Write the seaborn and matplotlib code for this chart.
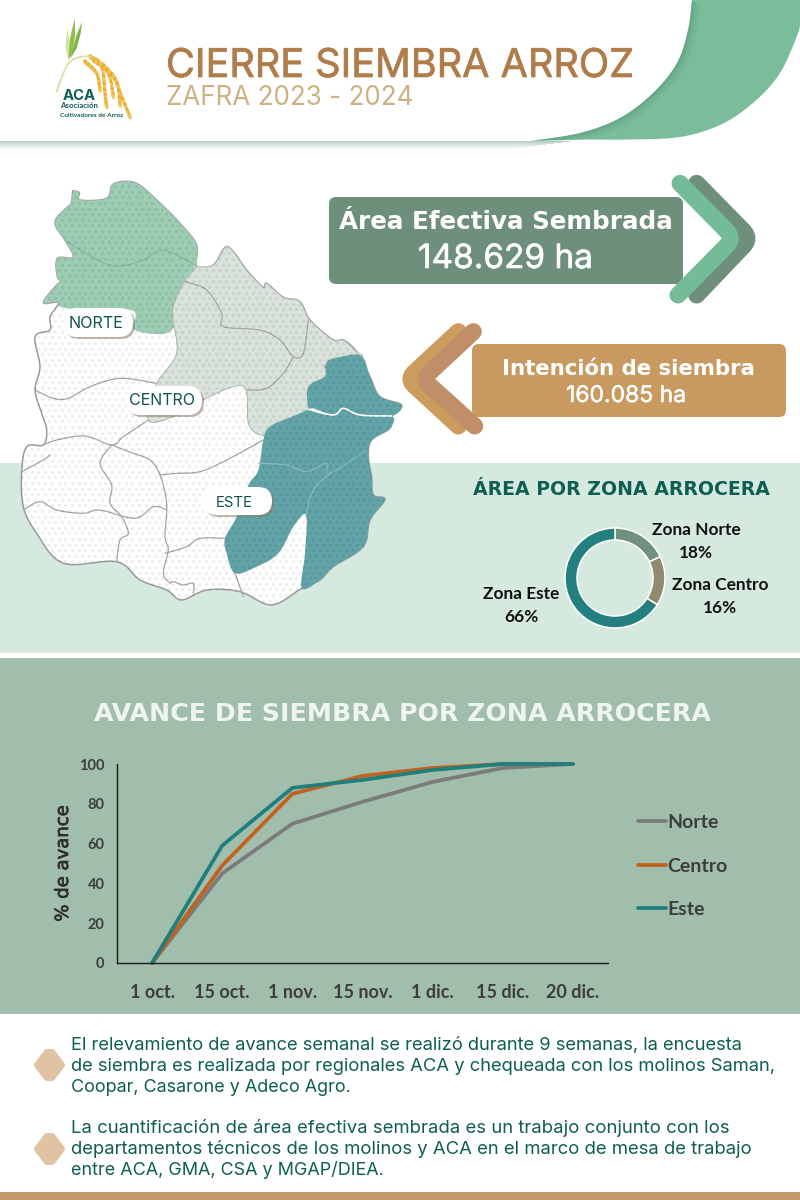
import numpy as np
import pandas as pd
import matplotlib
matplotlib.use("Agg")
import matplotlib.pyplot as plt
import seaborn as sns
from matplotlib.patches import FancyBboxPatch, Polygon, Rectangle, Ellipse
import matplotlib.patheffects as pe

# ---------- chart data ----------
fechas = ["1 oct.", "15 oct.", "1 nov.", "15 nov.", "1 dic.", "15 dic.", "20 dic."]
norte = [0, 45, 70, 81, 91, 98, 100]
centro = [0, 49, 85, 94, 98, 100, 100]
este = [0, 59, 88, 92, 97, 100, 100]
yticks = [0, 20, 40, 60, 80, 100]
zonas = ["Zona Norte", "Zona Centro", "Zona Este"]
zona_pct = [18, 16, 66]

# ---------- decorative map outlines (zoom-pixel tracing) ----------
COUNTRY = [(218,62),(238,68),(240,90),(320,85),(340,42),(405,38),(470,90),(540,160),(590,225),(590,290),(640,285),(675,232),(700,245),(740,300),(790,352),(800,340),(850,382),(900,395),(930,450),(1000,510),(1030,510),(1070,545),(1110,620),(1140,680),(1205,705),(1175,740),(1170,775),(1115,810),(1105,860),(1115,920),(1120,975),(1155,988),(1110,1050),(1090,1130),(1000,1190),(960,1230),(905,1255),(815,1305),(720,1265),(620,1260),(545,1290),(500,1260),(420,1230),(350,1175),(190,1180),(110,1090),(70,1010),(65,905),(80,830),(130,825),(140,780),(125,730),(105,660),(120,590),(105,500),(150,480),(150,440),(175,398),(130,398),(170,345),(185,335),(172,320),(172,265),(220,262),(195,210),(165,155),(215,100)]
NORTE_P = [(218,62),(238,68),(240,90),(320,85),(340,42),(405,38),(470,90),(540,160),(590,225),(585,290),(555,330),(518,420),(525,465),(490,492),(400,478),(395,420),(200,415),(170,395),(130,398),(170,345),(185,335),(172,320),(172,265),(220,262),(195,210),(165,155),(215,100)]
CENTRO_P = [(590,290),(640,285),(675,232),(700,245),(740,300),(790,352),(800,340),(850,382),(900,395),(930,450),(1000,510),(1030,510),(1070,545),(1085,560),(1000,565),(975,590),(975,620),(930,650),(925,720),(890,735),(810,770),(800,795),(770,790),(745,760),(738,660),(700,650),(610,690),(520,740),(445,750),(470,640),(530,550),(518,420),(555,330)]
ESTE_A = [(985,570),(1080,555),(1110,620),(1140,680),(1205,705),(1175,738),(1080,735),(1030,715),(1000,735),(940,715),(925,715),(925,650),(975,620),(975,590)]
ESTE_B = [(925,718),(1000,735),(1030,715),(1080,735),(1175,738),(1170,775),(1115,810),(1105,860),(1115,920),(1120,975),(1155,988),(1110,1050),(1090,1130),(1000,1190),(960,1230),(905,1255),(915,1150),(918,1035),(880,1070),(835,1150),(770,1190),(705,1210),(680,1150),(675,1105),(710,1040),(745,945),(775,900),(790,810),(810,770),(890,735)]
LINES_GRAY = [
    [(555,335),(620,360),(665,430),(670,470),(780,480),(840,510),(880,560),(910,550),(925,450)],
    [(880,560),(850,610),(800,655),(740,660)],
    [(105,660),(160,685),(205,685),(270,650),(360,625),(470,640)],
    [(130,825),(170,810),(255,798),(335,825),(370,800),(445,750)],
    [(150,855),(130,870),(65,905)],
    [(335,825),(300,880),(335,945),(330,1000),(365,1040),(385,1090),(360,1110),(350,1175)],
    [(335,825),(400,850),(450,870),(480,915),(500,1000),(495,1100),(505,1140),(490,1210),(510,1240)],
    [(70,1020),(120,995),(170,1020),(250,1030),(300,1020),(405,1045),(460,1010),(500,1020)],
    [(480,915),(530,910),(600,905),(680,870),(790,810)],
    [(495,1150),(560,1130),(600,1105),(675,1105)],
    [(510,1240),(520,1235),(550,1245),(580,1240),(580,1270)],
    [(705,1210),(730,1280)],
]
LINE_N = [(195,210),(250,245),(340,288),(430,270),(490,240),(585,285)]
LINES_E = [[(775,880),(860,885),(920,905),(980,880),(990,910),(1100,840)], [(990,910),(940,960),(918,1035)]]
LINE_W = [(925,718),(1000,735),(1030,715),(1080,735),(1175,738)]

sns.set_theme(style="white")
plt.rcParams["font.family"] = ["Inter", "DejaVu Sans"]
BODY = ["Inter", "DejaVu Sans"]
CAL = ["Lato", "DejaVu Sans"]
HEAVY = ["DejaVu Sans"]

fig = plt.figure(figsize=(8, 12), dpi=100, facecolor="white")
bg = fig.add_axes([0, 0, 1, 1])
bg.set_xlim(0, 800); bg.set_ylim(1200, 0); bg.axis("off")
rend = fig.canvas.get_renderer()
PT = 0.72


def fit(x0, x1, y, s, thick=0, **kw):
    """Left-aligned text whose width spans x0..x1, with y as its baseline."""
    t = bg.text(x0, y, s, ha="left", va="baseline", fontsize=12, **kw)
    for _ in range(3):
        w = t.get_window_extent(rend).width
        t.set_fontsize(t.get_fontsize() * (x1 - x0) / w)
    if thick:
        t.set_path_effects([pe.withStroke(linewidth=thick, foreground=kw.get("color", "k"))])
    return t


def smooth(pts, n=14):
    p = np.array([pts[0]] + list(pts) + [pts[-1]], float)
    out = []
    for i in range(1, len(p) - 2):
        for t in np.linspace(0, 1, n, endpoint=False):
            a, b, c, d = p[i - 1], p[i], p[i + 1], p[i + 2]
            out.append(0.5 * (2 * b + (c - a) * t + (2 * a - 5 * b + 4 * c - d) * t ** 2 + (3 * b - a - 3 * c + d) * t ** 3))
    out.append(p[-1])
    return np.array(out)


def z2(pts):
    return np.array([(x / 3, 170 + y / 3) for x, y in pts])


def z2s(pts, n=6):
    return z2(smooth(list(pts), n))


def z5(pts):
    return np.array([(320 + x / 3, 170 + y / 3) for x, y in pts])


def z7(pts):
    return np.array([(40 + x / 3, 10 + y / 3) for x, y in pts])


# ---------- bands ----------
bg.add_patch(Rectangle((0, 463), 800, 190, color="#d6e9df", lw=0))
bg.add_patch(Rectangle((0, 658), 800, 356, color="#a1bdab", lw=0))
bg.add_patch(Rectangle((0, 1192), 800, 8, color="#c29a6e", lw=0))

# ---------- header swoosh ----------
inner = smooth([(692, 0), (688, 30), (677, 63), (653, 93), (620, 118), (580, 133), (530, 141)])
outer = smooth([(587, 139.5), (630, 139.5), (680, 137), (720, 125), (753, 103), (780, 73), (798, 33), (800, 20)])
poly = np.vstack([inner, outer, [(800, 0)]])
for k in range(10):
    bg.add_patch(Rectangle((0, 141 + k), 570 - 8 * k, 1.2, color="#6f9d8a", alpha=0.5 * (1 - k / 10) ** 1.6, lw=0))
bg.add_patch(Polygon(poly, closed=True, color="#7abd9a", lw=0))
for w, a in [(10, .05), (7, .06), (4, .08), (2, .1)]:
    l = bg.plot(inner[:-3, 0] + w * .35, inner[:-3, 1] + w * .25, color="#2f6a52", alpha=a, lw=w * PT, solid_capstyle="butt")[0]
    l.set_clip_path(Polygon(poly, closed=True, transform=bg.transData))

# ---------- logo ----------
for pts, c in [([(82,55),(76,110),(85,150),(92,110)], "#d3e3a8"),
               ([(104,25),(90,85),(85,150),(98,130),(106,70)], "#8fc04e"),
               ([(126,35),(108,80),(92,145),(110,115),(122,70)], "#7fb548")]:
    bg.add_patch(Polygon(z7(pts), closed=True, color=c, lw=0))
st = z7(smooth([(50,245),(70,190),(90,155),(125,140),(150,140)]))
bg.plot(st[:, 0], st[:, 1], color="#d9dfa8", lw=1.3)
for pts in [[(150,140),(185,170),(195,250),(200,290)],
            [(170,150),(220,200),(245,260),(270,320)],
            [(135,155),(170,190),(180,240)],
            [(190,165),(230,215),(240,285)],
            [(160,150),(205,190),(220,260)]]:
    cur = z7(smooth(pts, 8))
    for i, (x, y) in enumerate(cur):
        bg.add_patch(Ellipse((x, y), 3.4, 5.6, angle=-15, color="#e9ab33" if i % 2 else "#f3c65b", lw=0))
fit(63, 96, 100, "ACA", color="#0f5e52", fontweight="bold", family=BODY)
fit(60, 98, 108.5, "Asociación", color="#0f5e52", family=CAL, fontweight="bold")
fit(60, 122, 117, "Cultivadores de Arroz", color="#0f5e52", family=CAL, fontweight="bold")

# ---------- header text ----------
fit(166, 634, 77, "CIERRE SIEMBRA ARROZ", thick=0.5, color="#b07d4a", family=BODY)
fit(166, 413, 105, "ZAFRA 2023 - 2024", color="#cdb083", family=BODY)

# ---------- map ----------
bg.add_patch(Polygon(z2s(COUNTRY), closed=True, facecolor="white", edgecolor="#9b9b9b", lw=1.1, joinstyle="round"))
bg.add_patch(Polygon(z2s(NORTE_P), closed=True, facecolor="#9dcdb4", edgecolor="none"))
bg.add_patch(Polygon(z2s(CENTRO_P), closed=True, facecolor="#d9e3da", edgecolor="#a8aea8", lw=0.6))
bg.add_patch(Polygon(z2s(ESTE_A), closed=True, facecolor="#62a3a8", edgecolor="none"))
bg.add_patch(Polygon(z2s(ESTE_B), closed=True, facecolor="#62a3a8", edgecolor="none"))
for ln in LINES_GRAY:
    p = z2s(ln)
    bg.plot(p[:, 0], p[:, 1], color="#a3a8a4", lw=0.9, solid_joinstyle="round")
p = z2s(LINE_N); bg.plot(p[:, 0], p[:, 1], color="#86b69e", lw=0.8)
for ln in LINES_E:
    p = z2s(ln); bg.plot(p[:, 0], p[:, 1], color="#8dbcbf", lw=0.8)
p = z2s(LINE_W); bg.plot(p[:, 0], p[:, 1], color="white", lw=1.2)
gx, gy = np.meshgrid(np.arange(15, 410, 6.7), np.arange(175, 610, 5.6))
gx = gx + (np.arange(gx.shape[0]) % 2)[:, None] * 3.35
dots = bg.scatter(gx.ravel(), gy.ravel(), s=6, color="black", alpha=0.065, lw=0, zorder=3)
dots.set_clip_path(Polygon(z2s(COUNTRY), closed=True, transform=bg.transData))

for (x0, x1, y0, y1, tx0, tx1, by, s) in [(63, 133, 308, 337, 69, 124, 328, "NORTE"),
                                           (126, 202, 386, 415, 129, 195, 405, "CENTRO"),
                                           (203, 272, 487, 515, 216, 253, 507, "ESTE")]:
    h = y1 - y0
    for dx, c, al, zo in [(2, "#8d7a66", .55, 4), (0, "white", 1, 5)]:
        bg.add_patch(FancyBboxPatch((x0 + h / 2 + dx, y0 + h / 2 + dx), x1 - x0 - h, 0,
                                    boxstyle=f"round,pad={h/2},rounding_size={h/2}",
                                    facecolor=c, edgecolor="none", alpha=al, zorder=zo))
    fit(tx0, tx1, by, s, color="#10524c", zorder=6, family=BODY)

# ---------- KPI boxes ----------
def rbox(x0, x1, y0, y1, c, r=7):
    bg.add_patch(FancyBboxPatch((x0 + r, y0 + r), x1 - x0 - 2 * r, y1 - y0 - 2 * r,
                                boxstyle=f"round,pad={r},rounding_size={r}", facecolor=c, edgecolor="none"))


def chev(a, tip, b, c, width=17):
    a, tip, b = np.array(a, float), np.array(tip, float), np.array(b, float)
    # short rounded bend around the apex
    p1 = tip + (a - tip) * 0.14
    p2 = tip + (b - tip) * 0.14
    ts = np.linspace(0, 1, 16)[:, None]
    bend = (1 - ts) ** 2 * p1 + 2 * ts * (1 - ts) * tip + ts ** 2 * p2
    p = z5(np.vstack([a, bend, b]))
    bg.plot(p[:, 0], p[:, 1], color=c, lw=width * PT, solid_joinstyle="round", solid_capstyle="round")


chev((1130, 40), (1292, 205), (1130, 375), "#6d8f7b")
chev((1080, 40), (1242, 205), (1074, 375), "#74bb98")
chev((415, 485), (262, 627), (415, 768), "#cc9c5e")
chev((460, 485), (308, 627), (464, 768), "#c08e68")
rbox(329, 683, 197, 284, "#6d8f7b")
rbox(472, 786, 344, 417, "#c99a60")
fit(339, 671, 229, "Área Efectiva Sembrada", color="white", fontweight="bold", family=HEAVY)
fit(418, 593, 268, "148.629 ha", color="white", family=BODY, thick=0.4)
fit(502, 755, 375, "Intención de siembra", color="white", fontweight="bold", family=HEAVY)
fit(566, 686, 402, "160.085 ha", color="white", family=BODY, thick=0.3)

# ---------- donut ----------
fit(473, 768, 495, "ÁREA POR ZONA ARROCERA", color="#0f5e52", fontweight="bold", family=HEAVY)
R = 50
dax = fig.add_axes([(615 - R) / 800, 1 - (578 + R) / 1200, 2 * R / 800, 2 * R / 1200])
dax.pie(zona_pct, startangle=90, counterclock=False, radius=1, colors=["#6f917d", "#918a70", "#23807f"],
        wedgeprops=dict(width=0.24, edgecolor="white", linewidth=1.1))
dax.set_xlim(-1, 1); dax.set_ylim(-1, 1)
for name, pct, cx, cy in zip(zonas, zona_pct, [696, 720, 521], [530, 585, 594]):
    bg.text(cx, cy, name, ha="center", va="center", fontsize=12.4, fontweight="bold", color="#111", family=CAL)
    bg.text(cx, cy + 23, f"{pct}%", ha="center", va="center", fontsize=12.4, fontweight="bold", color="#111", family=CAL)

# ---------- line chart ----------
fit(94, 712, 721, "AVANCE DE SIEMBRA POR ZONA ARROCERA", color="#eef5f0", fontweight="bold", family=HEAVY)
df = pd.DataFrame({
    "fecha": fechas * 3,
    "avance": norte + centro + este,
    "zona": ["Norte"] * 7 + ["Centro"] * 7 + ["Este"] * 7,
})
ax = fig.add_axes([117 / 800, 1 - 963 / 1200, (608 - 117) / 800, (963 - 764) / 1200])
ax.patch.set_alpha(0)
sns.lineplot(data=df, x="fecha", y="avance", hue="zona", sort=False, ax=ax, lw=2.7,
             palette={"Norte": "#7b7b7b", "Centro": "#c3611f", "Este": "#1f7f7c"}, clip_on=False)
ax.set_xlim(-0.5, 6.5); ax.set_ylim(0, 100)
ax.set_yticks(yticks)
sns.despine(ax=ax)
for sp in ["left", "bottom"]:
    ax.spines[sp].set_color("#1c1c1c"); ax.spines[sp].set_linewidth(1.0)
ax.tick_params(axis="both", length=0, labelcolor="#3d3d3d")
ax.tick_params(axis="y", pad=9, labelsize=10.5)
ax.tick_params(axis="x", pad=15, labelsize=13)
for t in ax.get_xticklabels() + ax.get_yticklabels():
    t.set_family(CAL); t.set_fontweight("bold")
ax.set_xlabel("")
ylab = ax.set_ylabel("% de avance", fontsize=13, color="#2e2e2e", family=HEAVY)
ylab.set_path_effects([pe.withStroke(linewidth=0.5, foreground="#2e2e2e")])
ax.yaxis.set_label_coords((72 - 117) / (608 - 117), 0.5)
handles, labels = ax.get_legend_handles_labels()
ax.legend(handles, labels, frameon=False, loc="center left", bbox_to_anchor=((620 - 117) / 491, (963 - 866) / 199),
          labelspacing=1.35, handlelength=1.45, handletextpad=0.1, prop=dict(family=CAL, size=14, weight="bold"),
          labelcolor="#3d3d3d")

# ---------- footer ----------
lines = [(71, 747, 1050, "El relevamiento de avance semanal se realizó durante 9 semanas, la encuesta"),
         (71, 778, 1071, "de siembra es realizada por regionales ACA y chequeada con los molinos Saman,"),
         (71, 351, 1092, "Coopar, Casarone y Adeco Agro."),
         (71, 727, 1133, "La cuantificación de área efectiva sembrada es un trabajo conjunto con los"),
         (71, 754, 1154, "departamentos técnicos de los molinos y ACA en el marco de mesa de trabajo"),
         (71, 384, 1175, "entre ACA, GMA, CSA y MGAP/DIEA.")]
for x0, x1, y, s in lines:
    fit(x0, x1, y, s, color="#0f5e52", family=BODY)
for cy in (1065, 1149):
    bg.add_patch(Polygon([(37.5, cy), (47, cy - 12.5), (52, cy - 12.5), (61.5, cy), (52, cy + 12.5), (47, cy + 12.5)], closed=True,
                         facecolor="#e0c3a2", edgecolor="#e0c3a2", lw=5, joinstyle="round"))

fig.savefig("out.png", dpi=100, facecolor="white")
